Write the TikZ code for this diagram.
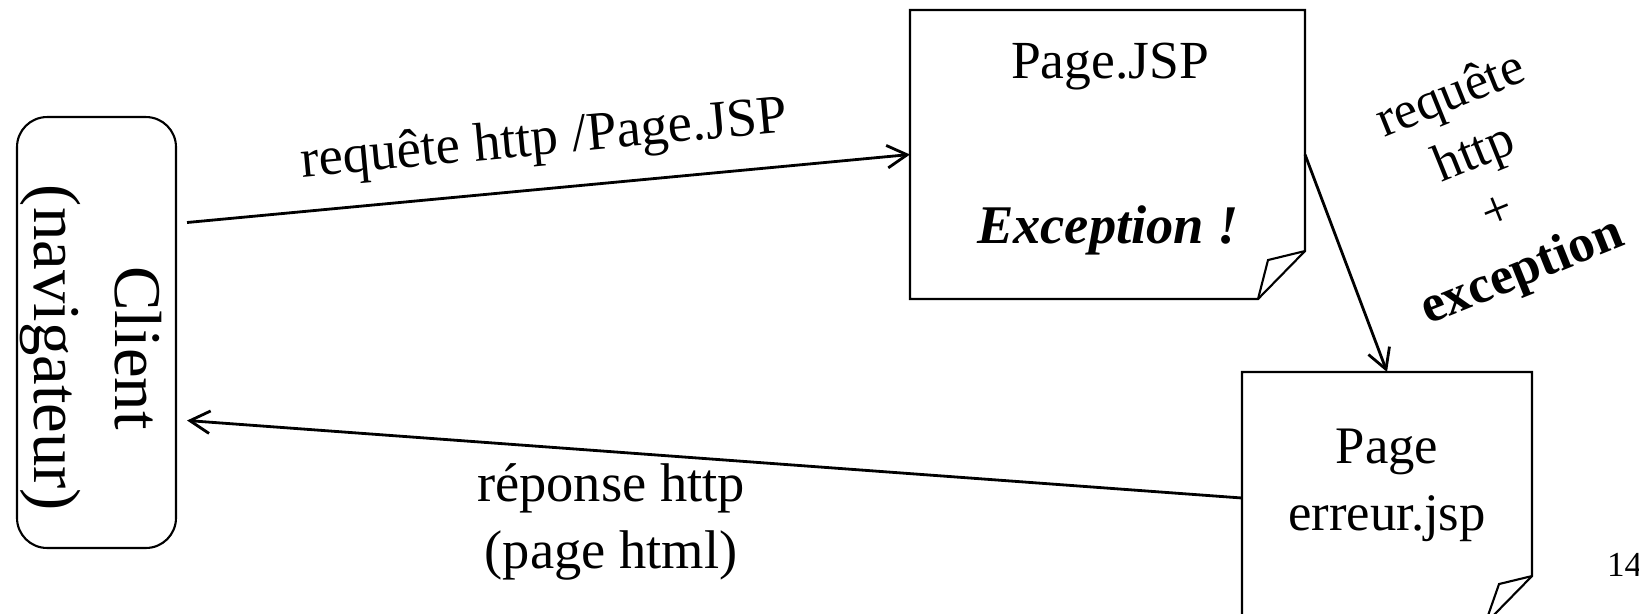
\documentclass[tikz,border=0pt]{standalone}
\usepackage{fontspec}
\setmainfont{Liberation Serif}
\usetikzlibrary{positioning}
\usetikzlibrary{arrows.meta}
\usetikzlibrary{calc}

\begin{document}
\begin{tikzpicture}[x=0.02cm, y=-0.02cm, line width=1.2pt,
    >={Straight Barb[length=4mm,width=4.5mm]},
    txt/.style={font=\fontsize{30}{36}\selectfont, inner sep=0pt},
    link/.style={->, line width=1.6pt}]
\useasboundingbox (0,0) rectangle (1639,613);
\clip (0,0) rectangle (1639,613);

% client
\node[draw, rounded corners=0.6cm, minimum width=3.18cm, minimum height=8.62cm] (client) at (96.5,332.5) {};
\node[txt, rotate=-90, align=center, font=\fontsize{38}{46}\selectfont] (clientlbl) at (91,348) {Client\\(navigateur)};

% Page.JSP
\node[minimum width=7.86cm, minimum height=5.74cm, inner sep=0pt] (jsp) at (1107.5,154.5) {};
\draw (jsp.north west) -- (jsp.north east) -- ($(jsp.south east)+(0,-48)$) -- ($(jsp.south east)+(-47,0)$) -- (jsp.south west) -- cycle;
\draw ($(jsp.south east)+(0,-48)$) -- ($(jsp.south east)+(-37,-39)$) -- ($(jsp.south east)+(-47,0)$);
\node[txt, anchor=base, font=\fontsize{30.5}{36}\selectfont] (jsptitle) at (1110,78) {Page.JSP};
\node[txt, anchor=base, font=\fontsize{31}{36}\selectfont] (jspexc) at (1108,243) {\textbf{\textit{Exception !}}};

% erreur.jsp
\node[minimum width=5.76cm, minimum height=5cm, inner sep=0pt] (erreur) at (1387,498) {};
\draw (erreur.north west) -- (erreur.north east) -- ($(erreur.south east)+(0,-48)$) -- ($(erreur.south east)+(-47,0)$) -- (erreur.south west) -- cycle;
\draw ($(erreur.south east)+(0,-48)$) -- ($(erreur.south east)+(-33,-40)$) -- ($(erreur.south east)+(-47,0)$);
\node[txt, align=center, font=\fontsize{30}{38}\selectfont] (errlbl) at (1387,485) {Page\\erreur.jsp};

% connectors
\draw[link] ($(client.east)+(10,-110)$) -- node[txt, sloped, above=12pt, font=\fontsize{31}{36}\selectfont] (reqlbl) {requête http /Page.JSP} (jsp.west);
\draw[link] (jsp.east) -- (erreur.north);
\draw[link] (erreur.west) -- ($(client.east)+(10,88)$);

\node[txt, rotate=22, align=center, font=\fontsize{30}{36}\selectfont] (exclbl) at (1487,185) {requête\\http\\+\\\textbf{exception}};
\node[txt, align=center, font=\fontsize{31}{38}\selectfont] (resplbl) at (611,522) {réponse http\\(page html)};

\node[anchor=base west, font=\fontsize{20}{24}\selectfont, inner sep=0pt] (pagenum) at (1606,576) {14};
\end{tikzpicture}
\end{document}
